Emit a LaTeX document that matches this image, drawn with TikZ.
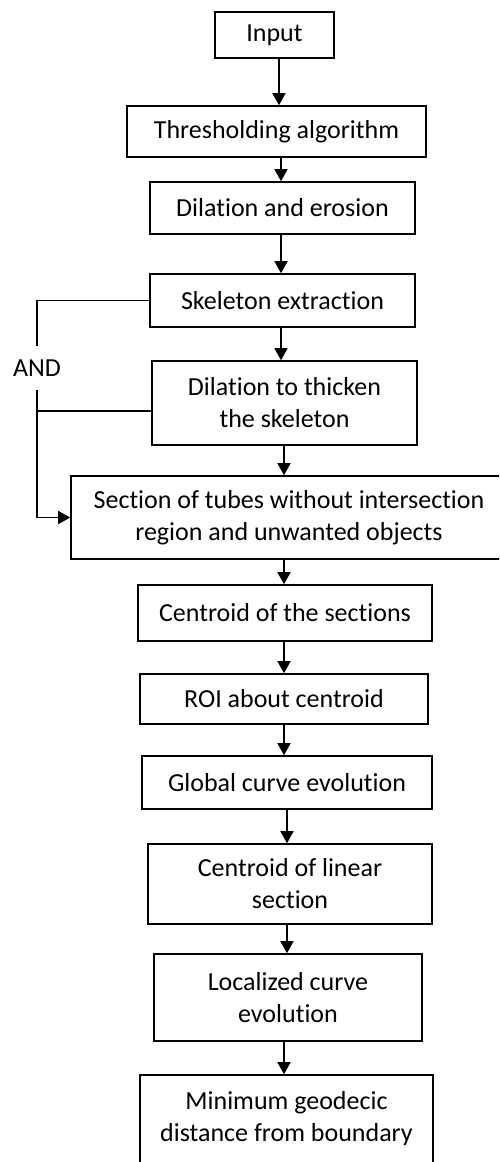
\documentclass[tikz,border=0pt]{standalone}
\usepackage{fontspec}
\setmainfont{Carlito}[Ligatures=NoCommon]
\usetikzlibrary{arrows.meta}
\tikzset{
  stage/.style={draw,line width=1.6pt,align=center,inner sep=0pt,
    font=\fontsize{26}{32}\selectfont},
  flow/.style={line width=1.6pt,-{Triangle[length=12pt,width=13pt]}}
}

\begin{document}
\begin{tikzpicture}[x=1pt,y=-1pt]
      \useasboundingbox (0,0) rectangle (499,1162);
      \clip (0,0) rectangle (499,1162);
      \node[stage,minimum width=119pt,minimum height=46pt] (In) at (274.5,35) {Input};
      \node[stage,minimum width=299pt,minimum height=51pt] (Thr) at (276.5,131.5) {Thresholding algorithm};
      \node[stage,minimum width=265pt,minimum height=52pt] (Dil) at (282.5,208) {Dilation and erosion};
      \node[stage,minimum width=265pt,minimum height=53pt] (Skel) at (282.5,300.5) {Skeleton extraction};
      \node[stage,minimum width=265pt,minimum height=84pt] (Thick) at (284.5,403) {Dilation to thicken\\the skeleton};
      \node[stage,minimum width=436pt,minimum height=83pt] (Sec) at (289,517.5) {Section of tubes without intersection\\region and unwanted objects};
      \node[stage,minimum width=294pt,minimum height=56pt] (Cen) at (285,613) {Centroid of the sections};
      \node[stage,minimum width=288pt,minimum height=50pt] (ROI) at (284,699) {ROI about centroid};
      \node[stage,minimum width=290pt,minimum height=53pt] (Glob) at (287,782.5) {Global curve evolution};
      \node[stage,minimum width=284pt,minimum height=80pt] (CenLin) at (290,884) {Centroid of linear\\section};
      \node[stage,minimum width=268pt,minimum height=87pt] (Loc) at (288,997.5) {Localized curve\\evolution};
      \node[stage,minimum width=293pt,minimum height=88pt] (Min) at (286.5,1119) {Minimum geodecic\\distance from boundary};
      \node[font=\fontsize{26}{32}\selectfont,minimum height=44pt,inner sep=0pt] (And) at (37,368) {AND};
      % main spine
      \foreach \a/\b/\x in {In/Thr/279,Thr/Dil/281,Dil/Skel/281,Skel/Thick/281,Thick/Sec/284,
          Sec/Cen/284,Cen/ROI/284,ROI/Glob/284,Glob/CenLin/287,CenLin/Loc/287,Loc/Min/284}
        \draw[flow] (\a.south -| \x,0) -- (\b.north -| \x,0);
      % side branch
      \draw[line width=1.6pt] (Skel.west) -| (And.north);
      \draw[line width=1.6pt] ([yshift=-8pt]Thick.west) -- ([yshift=-8pt]Thick.west -| And.south);
      \draw[flow] (And.south) |- (Sec.west);
    \end{tikzpicture}
\end{document}
